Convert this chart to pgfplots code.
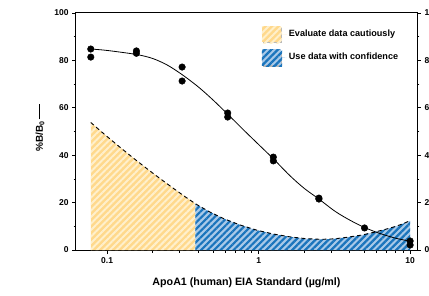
\documentclass[border=0pt]{standalone}
\usepackage{pgfplots}
\pgfplotsset{compat=1.18}
\usetikzlibrary{patterns.meta}
\usepackage{fontspec}
\setmainfont{Liberation Sans}
\definecolor{ybase}{HTML}{FFD98C}
\definecolor{ystripe}{HTML}{FFF0CC}
\definecolor{bbase}{HTML}{A9C9E8}
\definecolor{bstripe}{HTML}{1A74BC}

\tikzset{
  yellowfill/.style={draw=none, fill=ybase, postaction={pattern={Lines[angle=45,distance=4.6pt,line width=2pt]}, pattern color=ystripe}},
  bluefill/.style={draw=none, fill=bbase, postaction={pattern={Lines[angle=45,distance=4.6pt,line width=2.2pt]}, pattern color=bstripe}},
}

\begin{document}
\begin{tikzpicture}
\useasboundingbox (0,0) rectangle (429pt,295pt);
\begin{axis}[
  at={(76pt,45pt)}, anchor=south west,
  scale only axis, width=341pt, height=237pt,
  xmode=log, xmin=0.0623, xmax=11.1, ymin=0, ymax=100,
  tick align=outside,
  major tick length=4pt, minor tick length=2.5pt,
  axis line style={line width=1pt, black},
  every tick/.style={line width=0.8pt, black},
  tick label style={font=\bfseries\fontsize{8.5}{10}\selectfont},
  /pgf/number format/assume math mode=true,
  ytick={0,20,40,60,80,100}, minor y tick num=1,
  xtick={0.1,1,10}, xticklabels={0.1,1,10},
  xtick pos=bottom, ytick pos=left,
  xlabel={ApoA1 (human) EIA Standard (\textmu g/ml)},
  xlabel style={font=\bfseries\fontsize{10.7}{12}\selectfont, at={(axis description cs:0.5,-0.139)}, anchor=center},
  ylabel={\%B/B\textsubscript{0}\,\rule[0.6ex]{15pt}{0.6pt}},
  ylabel style={font=\bfseries\fontsize{10}{12}\selectfont, at={(axis description cs:-0.1056,0.515)}, anchor=center},
  legend style={at={(axis description cs:0.5446,0.945)}, anchor=north west, draw=none, fill=none,
    font=\bfseries\fontsize{9.1}{11}\selectfont, row sep=6pt, inner sep=0pt},
  legend cell align=left,
  legend image code/.code={
    \fill[gray!55] (1.2pt,-9.2pt) rectangle (20.2pt,6.8pt);
    \path[#1] (0pt,-8pt) rectangle (19pt,8pt);
    \path (0pt,0pt) -- (25pt,0pt);
  },
]
\addlegendimage{yellowfill}
\addlegendentry{Evaluate data cautiously}
\addlegendimage{bluefill}
\addlegendentry{Use data with confidence}

\addplot[yellowfill, forget plot] coordinates {
(0.078,53.8) (0.09,50.35) (0.1,47.86) (0.12,43.65) (0.15,38.64) (0.18,34.68)
(0.22,30.46) (0.27,26.29) (0.33,22.31) (0.383,19.5)
} \closedcycle;
\addplot[bluefill, forget plot] coordinates {
(0.383,19.5) (0.468,16.3) (0.589,13.2) (0.759,10.5) (0.98,8.3) (1.26,6.7)
(1.63,5.5) (2.04,4.8) (2.58,4.5) (3.16,4.7) (3.86,5.4) (4.79,6.3) (5.8,7.5)
(6.76,8.6) (7.87,9.8) (8.91,11.0) (10,12.4)
} \closedcycle;
\addplot[black, line width=0.9pt, dash pattern=on 4pt off 3pt, forget plot] coordinates {
(0.078,53.8) (0.09,50.35) (0.1,47.86) (0.12,43.65) (0.15,38.64) (0.18,34.68)
(0.22,30.46) (0.27,26.29) (0.33,22.31) (0.383,19.5)
(0.468,16.3) (0.589,13.2) (0.759,10.5) (0.98,8.3) (1.26,6.7)
(1.63,5.5) (2.04,4.8) (2.58,4.5) (3.16,4.7) (3.86,5.4) (4.79,6.3) (5.8,7.5)
(6.76,8.6) (7.87,9.8) (8.91,11.0) (10,12.4)
};
\addplot[black, line width=0.8pt, smooth, forget plot] coordinates {
(0.078,84.8) (0.1,84.2) (0.156,82.5) (0.2,80.8) (0.25,78.0) (0.3125,74.0)
(0.4,68.8) (0.5,63.3) (0.625,57.3) (0.8,50.5) (1.0,44.5) (1.25,38.5)
(1.6,31.5) (2.0,26.0) (2.5,21.5) (3.2,16.3) (4.0,12.6) (5.0,9.5)
(6.3,7.0) (8.0,5.0) (10,3.7)
};
\addplot[only marks, mark=*, mark size=3.3pt, black, forget plot] coordinates {
(0.078,84.8) (0.078,81.4)
(0.156,84.0) (0.156,83.0)
(0.3125,77.2) (0.3125,71.3)
(0.625,57.8) (0.625,56.1)
(1.25,39.2) (1.25,37.6)
(2.5,21.9) (2.5,21.5)
(5.0,9.3)
(10,3.8) (10,2.1)
};
\end{axis}
\begin{axis}[
  at={(76pt,45pt)}, anchor=south west,
  scale only axis, width=341pt, height=237pt,
  xmode=log, xmin=0.0623, xmax=11.1, ymin=0, ymax=100,
  tick align=outside,
  major tick length=4pt, minor tick length=2.5pt,
  axis line style={line width=1pt, black},
  every tick/.style={line width=0.8pt, black},
  tick label style={font=\bfseries\fontsize{8.5}{10}\selectfont},
  /pgf/number format/assume math mode=true,
  ytick={0,20,40,60,80,100}, minor y tick num=1,
  axis x line=none, axis y line*=right,
]
\addplot[draw=none] coordinates {(1,0)};
\end{axis}
\end{tikzpicture}
\end{document}
